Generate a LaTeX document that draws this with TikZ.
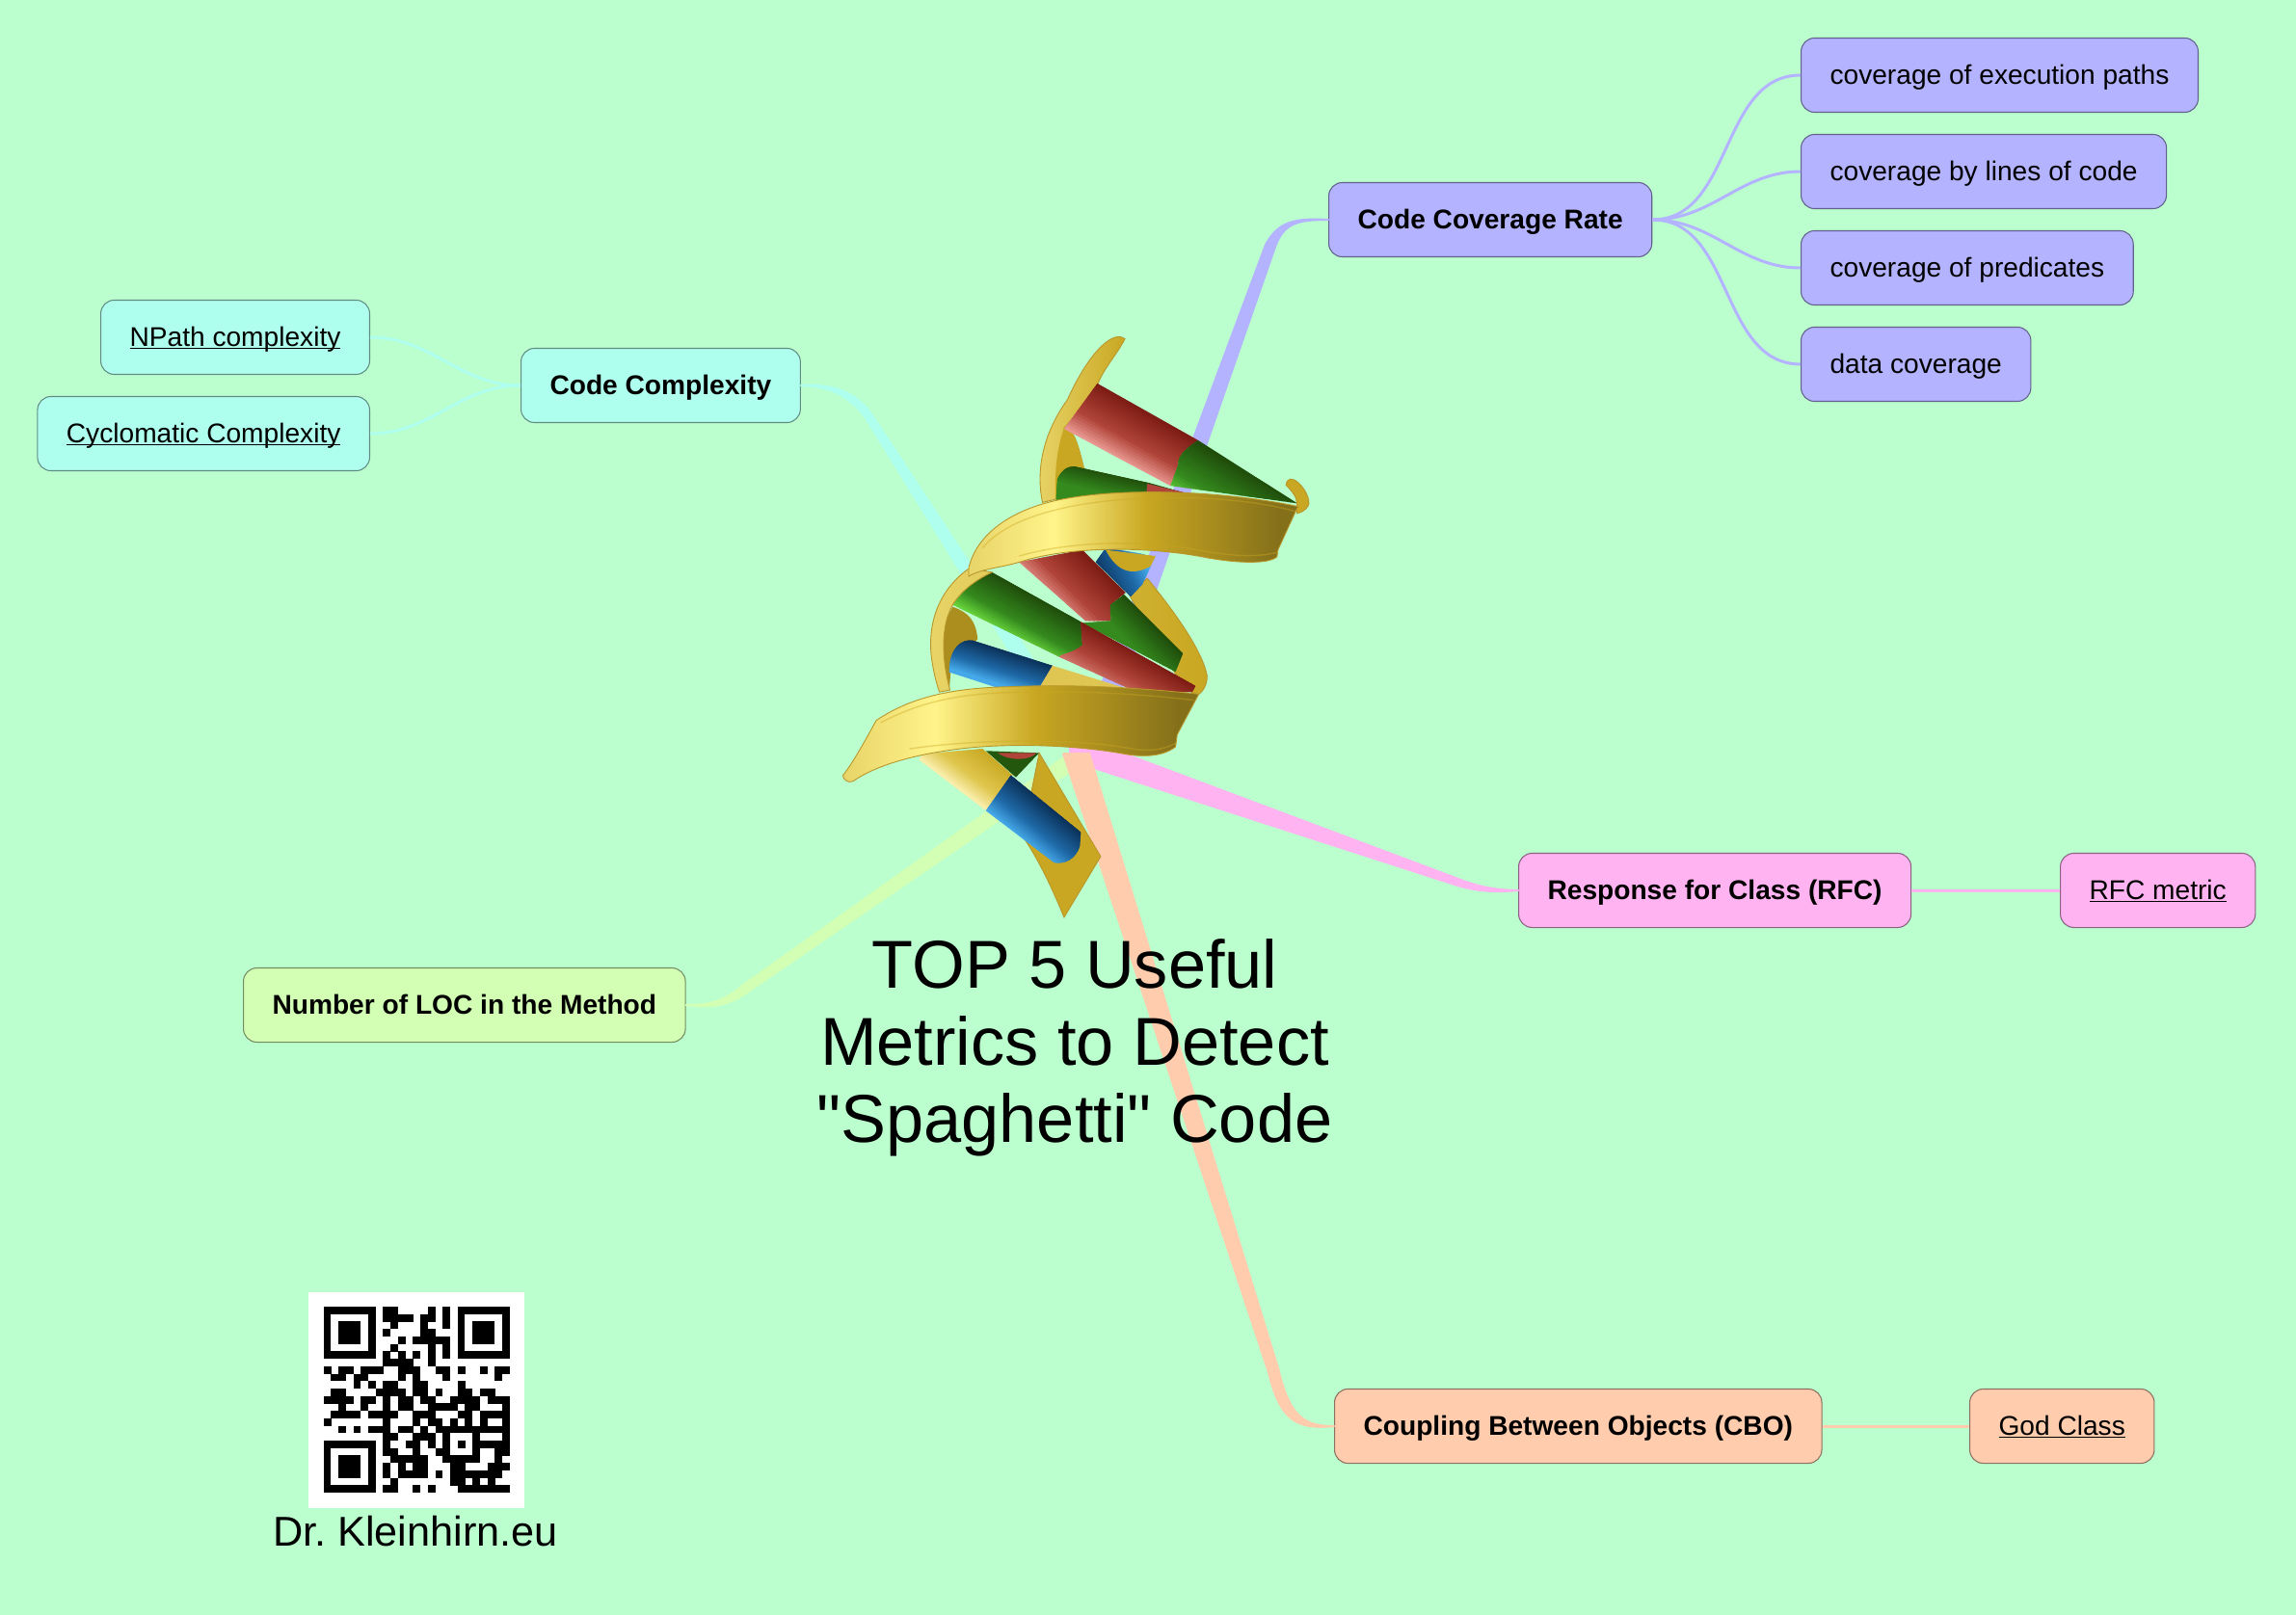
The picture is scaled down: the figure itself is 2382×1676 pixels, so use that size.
\documentclass[tikz,border=0pt]{standalone}
\usepackage{fontspec}
\setmainfont[Ligatures=TeXOff]{Liberation Sans}
\usetikzlibrary{calc}

\definecolor{mintback}{HTML}{BCFFCF}
\definecolor{coverline}{HTML}{B3B3FF}
\definecolor{cyanline}{HTML}{AFFFEE}
\definecolor{pinkline}{HTML}{FFB3F0}
\definecolor{peachline}{HTML}{FFCCAE}
\definecolor{limeline}{HTML}{D2FFB3}

\definecolor{goldpale}{HTML}{E8D468}
\definecolor{goldbright}{HTML}{FFF48A}
\definecolor{goldmid}{HTML}{C9A722}
\definecolor{golddark}{HTML}{85701A}
\definecolor{goldedge}{HTML}{B8962A}
\definecolor{reddark}{HTML}{7A1A12}
\definecolor{redmid}{HTML}{B0443A}
\definecolor{redpale}{HTML}{E89890}
\definecolor{greendark}{HTML}{1E4A0A}
\definecolor{greenmid}{HTML}{358A1E}
\definecolor{greenpale}{HTML}{6FDF40}
\definecolor{bluedark}{HTML}{0A2E55}
\definecolor{bluemid}{HTML}{1F6AA8}
\definecolor{bluepale}{HTML}{45A8E8}
\definecolor{creampale}{HTML}{F5E8C0}

\pgfdeclarehorizontalshading{goldribbon}{100bp}{color(0bp)=(goldpale); color(25bp)=(goldpale); color(38bp)=(goldbright); color(52bp)=(goldmid); color(72bp)=(golddark); color(100bp)=(golddark)}

% underlined link text
\newcommand{\linktext}[1]{\setbox0=\hbox{#1}\rlap{\rule[-0.8pt]{\wd0}{0.35pt}}\box0}

% clip to a shape and fill it with strips running from one colour over another to a third
\newcommand{\gradbar}[7]{
  \begin{scope}
    \clip #1;
    \foreach \i in {0,...,19} {
      \pgfmathsetmacro{\stripfrac}{\i/19}
      \pgfmathtruncatemacro{\pct}{\i<12 ? \i*100/12 : (\i-12)*100/7}
      \ifnum\i<12 \def\stripcol{#3!\pct!#2}\else \def\stripcol{#4!\pct!#3}\fi
      \draw[draw=\stripcol, line width=0.05cm] ($#5+\stripfrac*#7$) -- ($#6+\stripfrac*#7$);
    }
  \end{scope}
}

\tikzset{
  mapnode/.style={draw=#1!55!black, fill=#1, line width=0.3pt, rounded corners=0.14cm, inner xsep=0.3cm, inner ysep=0pt, minimum height=0.77cm, text height=0.225cm, text depth=0.045cm, font=\fontsize{8}{10}\selectfont},
  mainnode/.style={mapnode=#1, font=\fontsize{8}{10}\selectfont\bfseries},
  twig/.style={draw=#1, line width=0.03cm},
  branch/.style={draw=#1, fill=#1, line width=0.02cm, line join=round},
  ribbonedge/.style={draw=goldedge, line width=0.25pt}
}

\begin{document}
\begin{tikzpicture}[x=0.01cm, y=-0.01cm]

    \fill[mintback] (0,0) rectangle (2382,1676);
    \useasboundingbox (0,0) rectangle (2382,1676);

    \coordinate (hub) at (1124,782);

    % main topics
    \node[mainnode=coverline, anchor=west] (coverage) at (1378,228) {Code Coverage Rate};
    \node[mainnode=cyanline, anchor=west] (complexity) at (540,400) {Code Complexity};
    \node[mainnode=pinkline, anchor=west] (rfc) at (1575,924) {Response for Class (RFC)};
    \node[mainnode=peachline, anchor=west] (cbo) at (1384,1480) {Coupling Between Objects (CBO)};
    \node[mainnode=limeline, anchor=west] (loc) at (252,1043) {Number of LOC in the Method};

    % leaves
    \node[mapnode=coverline, anchor=west] (covpaths) at (1868,78) {coverage of execution paths};
    \node[mapnode=coverline, anchor=west] (covlines) at (1868,178) {coverage by lines of code};
    \node[mapnode=coverline, anchor=west] (covpreds) at (1868,278) {coverage of predicates};
    \node[mapnode=coverline, anchor=west] (covdata) at (1868,378) {data coverage};
    \node[mapnode=cyanline, anchor=east] (npath) at (384,350) {\linktext{NPath complexity}};
    \node[mapnode=cyanline, anchor=east] (cyclomatic) at (384,450) {\linktext{Cyclomatic Complexity}};
    \node[mapnode=pinkline, anchor=west] (rfcmetric) at (2137,924) {\linktext{RFC metric}};
    \node[mapnode=peachline, anchor=west] (godclass) at (2043,1480) {\linktext{God Class}};

    % thin lines to the leaves
    \draw[twig=coverline] (coverage.east) to[out=0, in=180] (covpaths.west);
    \draw[twig=coverline] (coverage.east) to[out=0, in=180] (covlines.west);
    \draw[twig=coverline] (coverage.east) to[out=0, in=180] (covpreds.west);
    \draw[twig=coverline] (coverage.east) to[out=0, in=180] (covdata.west);
    \draw[twig=cyanline] (complexity.west) to[out=180, in=0] (npath.east);
    \draw[twig=cyanline] (complexity.west) to[out=180, in=0] (cyclomatic.east);
    \draw[twig=pinkline] (rfc.east) -- (rfcmetric.west);
    \draw[twig=peachline] (cbo.east) -- (godclass.west);

    % tapered branches out of the centre
    \draw[branch=limeline] (loc.east) .. controls (735,1043) and (750,1040) .. (770,1023) -- ($(hub)+(2,-12)$) -- ($(hub)+(2,8)$) -- (772,1032) .. controls (750,1046) and (735,1045) .. (loc.east) -- cycle;
    \draw[branch=coverline] (coverage.west) .. controls (1345,228) and (1332,232) .. (1323,256) -- ($(hub)+(16,0)$) -- ($(hub)+(-8,0)$) -- (1313,254) .. controls (1326,230) and (1343,226) .. (coverage.west) -- cycle;
    \draw[branch=cyanline] (complexity.east) .. controls (858,401) and (878,408) .. (897,432) -- ($(hub)+(-8,5)$) -- ($(hub)+(8,-5)$) -- (903,428) .. controls (885,405) and (862,398) .. (complexity.east) -- cycle;
    \draw[branch=pinkline] (rfc.west) .. controls (1555,924) and (1535,921) .. (1510,911) -- ($(hub)+(-14,-21)$) -- ($(hub)+(-14,7)$) -- (1506,917) .. controls (1532,926) and (1555,926) .. (rfc.west) -- cycle;
    \draw[branch=peachline] (cbo.west) .. controls (1352,1480) and (1338,1470) .. (1326,1420) -- ($(hub)+(6,0)$) -- ($(hub)+(-21,0)$) -- (1316,1424) .. controls (1328,1474) and (1345,1484) .. (cbo.west) -- cycle;

    % helix, numbers are taken from a zoomed crop of it
    \begin{scope}[shift={(840,320)}, x=0.003444cm, y=-0.004209cm]

    % back ribbon parts
    \path[ribbonedge, left color=goldpale, right color=goldmid] (948,75) .. controls (920,55) and (850,90) .. (775,225) .. controls (700,310) and (680,400) .. (700,478) -- (740,470) -- (825,395) .. controls (800,310) and (790,300) .. (765,295) -- (860,205) .. controls (870,160) and (920,120) .. (948,75) -- cycle;
    \fill[goldmid] (765,295) .. controls (790,300) and (800,310) .. (825,395) -- (740,470) .. controls (735,400) and (745,340) .. (765,295) -- cycle;
    \path[ribbonedge, fill=goldmid] (690,1095) -- (875,1350) -- (765,1500) .. controls (740,1450) and (695,1365) .. (640,1300) -- cycle;
    \path[ribbonedge, left color=goldmid!80!goldpale, right color=goldmid] (1015,665) .. controls (1090,740) and (1180,840) .. (1195,905) .. controls (1195,935) and (1175,950) .. (1160,955) -- (1100,900) -- (960,705) -- cycle;
    \fill[goldmid!85!black] (430,735) .. controls (480,750) and (500,770) .. (505,815) -- (425,880) -- (420,940) -- (390,940) .. controls (385,860) and (390,790) .. (430,735) -- cycle;

    % bars
    \gradbar{(740,480) -- (745,420) .. controls (760,395) and (780,385) .. (810,392) -- (1020,430) -- (1150,460) -- (1150,480) -- cycle}{greendark}{greenmid}{greenmid}{(740,375)}{(1150,455)}{(0,90)}
    \fill[redmid] (1015,432) -- (1150,458) -- (1150,480) -- (1010,480) -- cycle;
    \gradbar{(865,185) -- (1168,325) .. controls (1130,345) and (1105,365) .. (1108,385) -- (1085,437) -- (765,297) -- cycle}{reddark}{redmid}{redpale}{(765,139)}{(1268,371)}{(-100,110)}
    \gradbar{(1168,325) -- (1465,480) -- (1085,437) -- (1108,385) .. controls (1105,365) and (1130,345) .. (1168,325) -- cycle}{greendark}{greenmid}{greenpale}{(1068,280)}{(1568,525)}{(-90,130)}
    \gradbar{(860,625) -- (890,590) -- (1040,610) -- (1000,680) -- (965,710) -- cycle}{bluedark}{bluemid}{bluepale}{(820,590)}{(920,750)}{(150,-30)}
    \fill[goldmid] (890,595) -- (1040,610) -- (1025,635) .. controls (970,660) and (925,650) .. (890,595) -- cycle;
    \gradbar{(630,625) -- (820,595) -- (950,700) -- (905,730) .. controls (900,750) and (910,765) .. (905,770) -- (830,770) -- cycle}{reddark}{redmid}{redpale}{(720,515)}{(1050,780)}{(-120,110)}
    \gradbar{(945,705) -- (1122,850) -- (1100,895) -- (820,775) -- (905,770) .. controls (910,765) and (900,750) .. (905,730) -- cycle}{greendark}{greenmid}{greenmid}{(860,635)}{(1200,914)}{(-90,100)}
    \gradbar{(420,885) .. controls (425,835) and (455,815) .. (490,818) -- (730,880) -- (690,935) -- (430,935) .. controls (420,925) and (418,905) .. (420,885) -- cycle}{bluedark}{bluemid}{bluepale}{(420,800)}{(760,890)}{(0,90)}
    \fill[goldpale!70!goldmid] (730,880) -- (975,942) -- (690,935) -- cycle;
    \gradbar{(548,650) -- (815,772) -- (820,830) .. controls (790,850) and (760,850) .. (750,858) -- (700,838) -- (430,730) -- (480,680) -- cycle}{greendark}{greenmid}{greenpale}{(448,604)}{(950,833)}{(-90,100)}
    \gradbar{(815,772) -- (1160,930) -- (1150,945) -- (975,942) -- (750,858) .. controls (760,850) and (790,850) .. (820,830) -- cycle}{reddark}{redmid}{redpale!60!redmid}{(715,726)}{(1260,976)}{(-60,95)}
    \fill[greendark!80!greenmid] (530,1090) -- (690,1095) -- (620,1155) -- cycle;
    \fill[redmid] (565,1095) -- (682,1095) .. controls (660,1115) and (600,1115) .. (565,1095) -- cycle;
    \gradbar{(310,1100) -- (520,1085) -- (610,1150) -- (530,1237) -- cycle}{goldmid}{goldmid!60!goldbright}{creampale}{(400,1010)}{(720,1210)}{(-70,101)}
    \gradbar{(605,1150) -- (815,1290) -- (812,1325) .. controls (800,1355) and (770,1370) .. (735,1365) -- (530,1237) -- cycle}{bluedark}{bluemid}{bluepale}{(500,1080)}{(900,1347)}{(-65,94)}

    % front ribbon parts
    \path[ribbonedge, left color=goldpale, right color=goldpale!80!goldmid] (480,640) .. controls (410,680) and (355,750) .. (365,850) .. controls (370,890) and (380,920) .. (390,945) -- (422,940) .. controls (395,860) and (395,780) .. (430,730) .. controls (460,690) and (510,665) .. (548,650) -- cycle;
    \path[ribbonedge, fill=goldmid] (1432,435) .. controls (1435,418) and (1450,415) .. (1470,430) .. controls (1490,445) and (1505,470) .. (1500,485) .. controls (1490,500) and (1475,503) .. (1465,505) -- (1465,480) .. controls (1465,465) and (1450,450) .. (1432,435) -- cycle;
    \path[ribbonedge, shading=goldribbon] (478,640) .. controls (500,560) and (600,495) .. (760,470) .. controls (950,440) and (1250,450) .. (1468,488) -- (1408,595) -- (1405,612) .. controls (1380,630) and (1290,628) .. (1200,615) .. controls (1020,585) and (780,585) .. (630,625) .. controls (570,640) and (520,640) .. (478,660) -- cycle;
    \draw[goldmid, line width=0.4pt, opacity=0.4] (520,590) .. controls (600,510) and (800,475) .. (1000,468) .. controls (1200,462) and (1350,475) .. (1460,500);
    \draw[goldmid, line width=0.4pt, opacity=0.4] (630,610) .. controls (800,570) and (1020,570) .. (1200,600) .. controls (1290,612) and (1360,612) .. (1408,600);
    \path[ribbonedge, shading=goldribbon] (100,1150) .. controls (130,1120) and (170,1060) .. (200,1015) .. controls (300,960) and (420,935) .. (600,932) .. controls (800,925) and (1000,935) .. (1170,950) -- (1105,1050) -- (1100,1080) .. controls (1060,1105) and (1000,1105) .. (950,1098) .. controls (800,1075) and (600,1070) .. (450,1085) .. controls (300,1100) and (190,1130) .. (130,1165) .. controls (115,1170) and (100,1160) .. (100,1150) -- cycle;
    \draw[goldmid, line width=0.4pt, opacity=0.4] (215,1020) .. controls (320,975) and (430,950) .. (600,946) .. controls (800,940) and (1000,950) .. (1155,965);
    \draw[goldmid, line width=0.4pt, opacity=0.4] (300,1085) .. controls (500,1060) and (800,1060) .. (950,1082) .. controls (1010,1092) and (1060,1090) .. (1102,1070);
    \end{scope}

    % title
    \node[align=center, font=\fontsize{20}{22.8}\selectfont] (title) at (1115,1087) {TOP 5 Useful\\Metrics to Detect\\"Spaghetti" Code};

    % qr code
    \fill[white] (320,1341) rectangle (544,1565);
    \begin{scope}[shift={(335.7,1356)}, x=0.0772cm, y=-0.0772cm]
    \foreach \cx/\cy in {0/0, 18/0, 0/18} {
        \fill[black] (\cx,\cy) rectangle ++(7,7);
        \fill[white] (\cx+1,\cy+1) rectangle ++(5,5);
        \fill[black] (\cx+2,\cy+2) rectangle ++(3,3);
    }
    \foreach \r/\cols in {0/{8,9,14,16}, 1/{8,9,10,11,13,14,16}, 2/{9,13,16}, 3/{8,13,14}, 4/{10,12,13,14,15,16}, 5/{9,14,16}, 6/{8,10,12,14,16}, 7/{8,9,10,11,14},
        8/{0,2,3,5,6,7,10,11,12,15,16,18,21,23,24}, 9/{1,2,4,5,10,12,16,23}, 10/{4,6,8,9,12,13,18}, 11/{1,2,7,8,9,10,12,13,15,18,19,21,22},
        12/{0,1,2,3,5,6,8,10,11,13,14,17,18,19,20,22,23,24}, 13/{2,5,8,10,11,14,15,16,17,19,20,24}, 14/{1,2,3,4,6,7,8,9,12,13,14,18,19,21,22,23,24}, 15/{0,8,12,14,15,17,19,21,24},
        16/{2,4,6,7,8,10,11,13,15,16,17,18,19,20,21,22,23,24}, 17/{8,9,12,13,14,16,20,24}, 18/{8,11,12,14,16,18,20,21,22,23,24}, 19/{8,9,12,15,16,20,23,24},
        20/{9,10,11,12,13,16,17,18,19,20,23}, 21/{8,10,12,13,17,18,22,23,24}, 22/{8,10,11,12,13,15,17,18,19,20,21,22,23}, 23/{9,17,18,20,22}, 24/{8,9,12,14,18,19,20,21,22,23,24}} {
        \foreach \c in \cols {
            \fill[black] (\c,\r) rectangle ++(1.02,1.02);
        }
    }
    \end{scope}
    \node[font=\fontsize{12.3}{14}\selectfont\frenchspacing] (qrlabel) at (431,1589) {Dr. Kleinhirn.eu};

\end{tikzpicture}
\end{document}
